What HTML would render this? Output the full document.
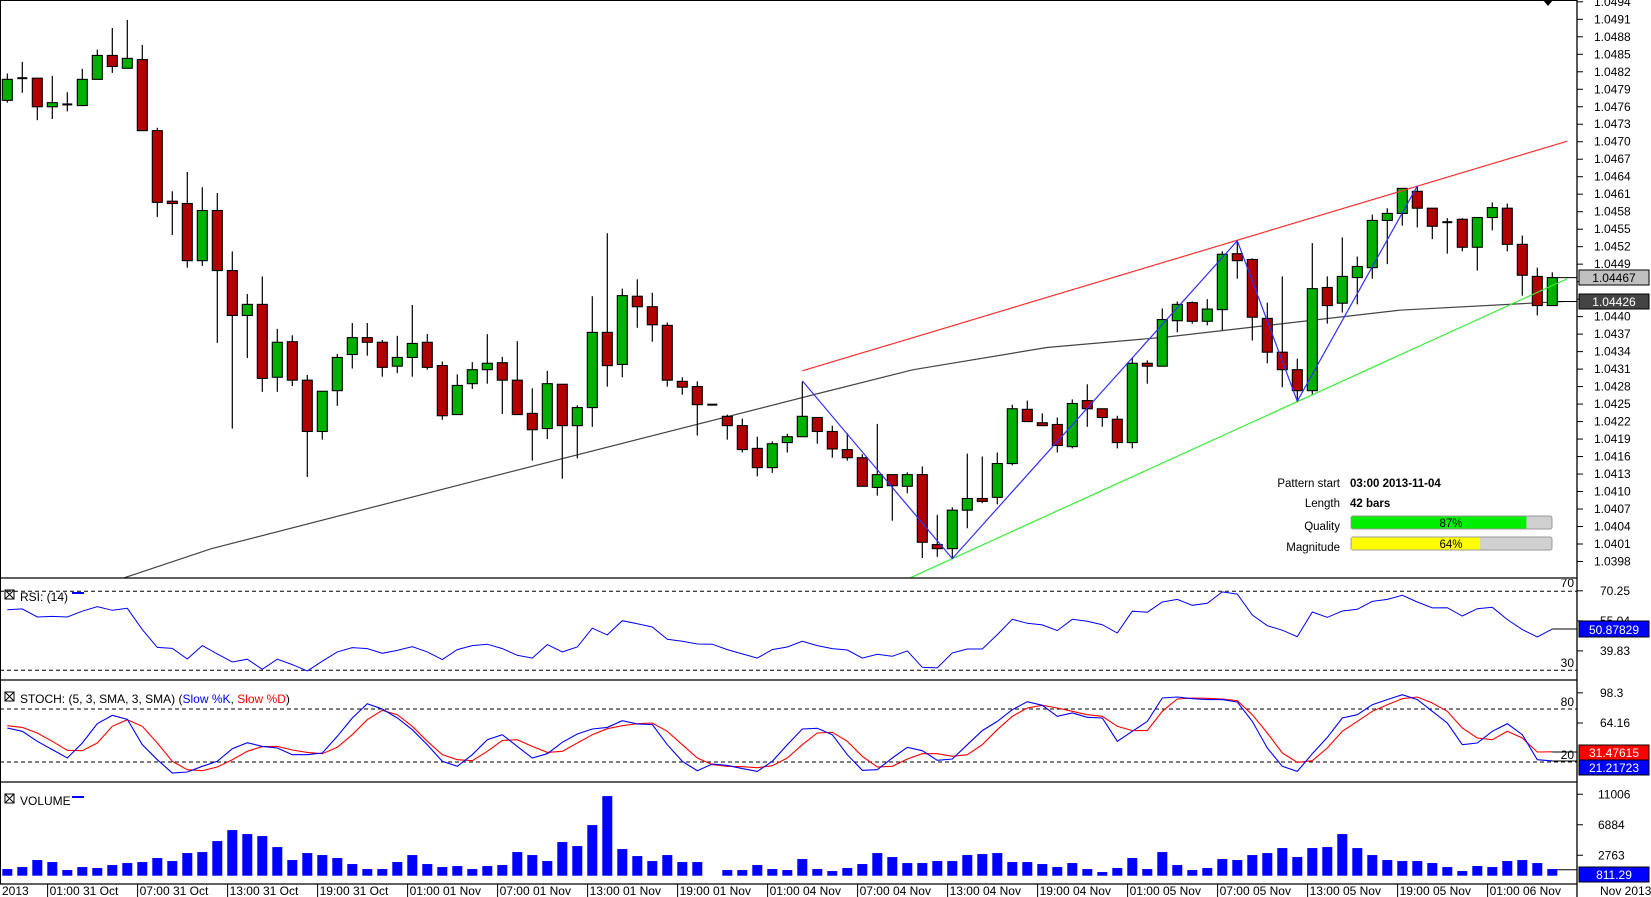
<!DOCTYPE html>
<html><head><meta charset="utf-8">
<style>
html,body{margin:0;padding:0;background:#fff;}
svg{display:block;font-family:"Liberation Sans",Arial,sans-serif;}
</style></head>
<body>
<svg id="chart" width="1651" height="897" viewBox="0 0 1651 897" xmlns="http://www.w3.org/2000/svg">
<defs>
<clipPath id="cMain"><rect x="0" y="0" width="1577" height="578"/></clipPath>
<clipPath id="cRsi"><rect x="0" y="579" width="1577" height="101"/></clipPath>
<clipPath id="cSto"><rect x="0" y="681" width="1577" height="101"/></clipPath>
<clipPath id="cRsiAx"><rect x="1540" y="579" width="111" height="101"/></clipPath>
</defs>
<rect x="0" y="0" width="1651" height="897" fill="#fff"/>
<g id="main" clip-path="url(#cMain)"></g>
<g id="rsi" clip-path="url(#cRsi)"></g>
<g id="sto" clip-path="url(#cSto)"></g>
<g id="vol"></g>
<g id="axes"></g>
</svg>
<script>
const opens=[1.04771,1.04809,1.04809,1.04760,1.04764,1.04762,1.04807,1.04848,1.04826,1.04841,1.04719,1.04598,1.04594,1.04496,1.04582,1.04479,1.04402,1.04421,1.04296,1.04357,1.04291,1.04203,1.04273,1.04335,1.04364,1.04356,1.04315,1.04330,1.04356,1.04316,1.04232,1.04285,1.04309,1.04321,1.04291,1.04234,1.04208,1.04284,1.04213,1.04244,1.04373,1.04318,1.04435,1.04417,1.04385,1.04289,1.04280,1.04249,1.04229,1.04213,1.04174,1.04141,1.04184,1.04194,1.04227,1.04203,1.04172,1.04158,1.04107,1.04129,1.04109,1.04129,1.04009,1.04002,1.04068,1.04088,1.04090,1.04148,1.04241,1.04218,1.04215,1.04177,1.04256,1.04242,1.04224,1.04184,1.04320,1.04315,1.04393,1.04424,1.04392,1.04412,1.04508,1.04498,1.04397,1.04339,1.04309,1.04273,1.04450,1.04423,1.04467,1.04484,1.04565,1.04577,1.04615,1.04586,1.04562,1.04567,1.04519,1.04570,1.04586,1.04524,1.04469,1.04419];
const highs=[1.04817,1.04837,1.04809,1.04813,1.04785,1.04825,1.04858,1.04895,1.04909,1.04866,1.04724,1.04615,1.04648,1.04622,1.04612,1.04512,1.04439,1.04469,1.04379,1.04368,1.04300,1.04272,1.04336,1.04389,1.04389,1.04360,1.04367,1.04420,1.04370,1.04323,1.04301,1.04322,1.04370,1.04331,1.04358,1.04277,1.04307,1.04284,1.04248,1.04435,1.04543,1.04448,1.04464,1.04441,1.04390,1.04296,1.04289,1.04249,1.04232,1.04225,1.04194,1.04186,1.04199,1.04288,1.04227,1.04213,1.04200,1.04164,1.04216,1.04129,1.04133,1.04143,1.04060,1.04073,1.04165,1.04160,1.04167,1.04249,1.04256,1.04234,1.04227,1.04258,1.04284,1.04242,1.04230,1.04330,1.04325,1.04414,1.04426,1.04426,1.04430,1.04512,1.04531,1.04500,1.04424,1.04469,1.04328,1.04526,1.04469,1.04536,1.04503,1.04575,1.04586,1.04620,1.04623,1.04586,1.04569,1.04569,1.04570,1.04596,1.04594,1.04539,1.04484,1.04476];
const lows=[1.04767,1.04784,1.04737,1.04739,1.04752,1.04762,1.04807,1.04818,1.04826,1.04719,1.04571,1.04540,1.04484,1.04487,1.04355,1.04208,1.04329,1.04271,1.04271,1.04281,1.04125,1.04189,1.04247,1.04311,1.04333,1.04297,1.04303,1.04297,1.04309,1.04223,1.04232,1.04276,1.04285,1.04233,1.04232,1.04153,1.04190,1.04122,1.04157,1.04211,1.04280,1.04296,1.04381,1.04357,1.04280,1.04266,1.04196,1.04249,1.04189,1.04167,1.04126,1.04132,1.04167,1.04194,1.04182,1.04158,1.04153,1.04109,1.04093,1.04050,1.04097,1.03986,1.03988,1.03985,1.04037,1.04080,1.04078,1.04145,1.04220,1.04213,1.04167,1.04174,1.04211,1.04211,1.04174,1.04174,1.04285,1.04315,1.04373,1.04388,1.04385,1.04377,1.04465,1.04359,1.04320,1.04279,1.04254,1.04266,1.04388,1.04407,1.04421,1.04465,1.04490,1.04556,1.04553,1.04533,1.04508,1.04512,1.04479,1.04548,1.04512,1.04436,1.04402,1.04419];
const closes=[1.04807,1.04809,1.04760,1.04767,1.04764,1.04807,1.04848,1.04829,1.04843,1.04719,1.04596,1.04594,1.04496,1.04582,1.04479,1.04402,1.04421,1.04294,1.04356,1.04291,1.04203,1.04272,1.04330,1.04364,1.04356,1.04313,1.04330,1.04354,1.04313,1.04230,1.04282,1.04309,1.04320,1.04291,1.04232,1.04206,1.04285,1.04213,1.04244,1.04373,1.04316,1.04436,1.04417,1.04386,1.04291,1.04279,1.04249,1.04249,1.04213,1.04172,1.04141,1.04182,1.04194,1.04229,1.04203,1.04173,1.04158,1.04109,1.04129,1.04110,1.04129,1.04013,1.04002,1.04068,1.04088,1.04083,1.04148,1.04242,1.04220,1.04213,1.04179,1.04251,1.04242,1.04227,1.04184,1.04320,1.04315,1.04395,1.04421,1.04392,1.04413,1.04507,1.04496,1.04399,1.04339,1.04309,1.04273,1.04448,1.04419,1.04469,1.04486,1.04565,1.04577,1.04620,1.04586,1.04555,1.04562,1.04519,1.04570,1.04587,1.04524,1.04471,1.04419,1.04467];
const volumes=[900,1170,2115,1845,765,1170,1035,1440,1710,1845,2385,1980,3060,3195,4680,6165,5625,5355,3870,2115,3060,2790,2385,1575,900,900,1845,2790,1575,1170,1305,900,1305,1440,3195,2790,1980,4545,4005,6840,10755,3600,2655,1980,2790,1845,1845,0,765,765,1440,900,765,2250,900,630,1035,1575,3060,2520,1710,1710,1980,1980,2790,2925,3060,1845,1845,1575,1170,1710,900,495,1035,2385,900,3195,1440,765,1035,2250,2115,2790,3060,3735,2520,3735,3870,5625,3735,2790,2115,1980,1980,1710,1170,630,1305,1170,1980,2115,1710,900];
const rsiVals=[60.7,61.1,57.0,57.3,57.0,59.9,62.2,60.4,61.4,50.6,41.6,41.1,35.7,42.5,38.3,34.2,35.6,30.5,35.6,32.9,29.7,34.6,39.3,41.5,41.0,38.6,40.1,42.0,39.3,35.4,40.5,42.5,43.2,41.0,37.6,36.2,43.0,39.3,41.8,51.3,47.9,55.1,53.6,51.9,45.7,44.7,43.3,43.2,40.5,38.3,36.2,40.5,41.8,44.7,42.5,41.0,40.3,36.2,38.1,37.1,39.8,31.5,31.2,38.8,40.8,40.8,48.1,55.8,53.8,53.0,50.1,55.8,54.8,53.1,48.9,59.9,59.4,64.6,65.9,62.9,63.9,69.7,68.6,58.0,52.6,50.3,47.0,59.5,56.8,60.0,60.9,64.9,65.9,68.0,64.6,61.6,61.7,57.5,61.2,61.9,55.7,50.6,46.9,50.88];
const stochK=[58.5,54.7,43.4,34.0,24.5,41.5,63.4,72.8,68.3,39.6,22.6,7.5,8.7,15.1,20.8,35.1,41.9,37.7,35.8,28.3,28.3,30.2,49.1,69.8,86.0,80.0,69.8,56.6,39.6,20.8,15.1,28.3,45.3,50.9,37.7,24.5,29.4,42.3,51.7,57.4,59.2,66.8,63.0,62.3,39.6,20.8,10.2,17.7,16.2,12.5,9.4,20.8,39.6,57.4,58.1,50.9,28.3,10.6,11.3,24.5,36.6,32.8,21.9,23.4,39.6,55.5,66.0,79.2,88.3,84.2,71.7,75.5,70.6,69.8,43.4,54.7,66.0,92.5,93.6,91.7,90.6,90.6,87.9,66.0,35.8,15.1,9.4,29.4,47.9,69.8,73.6,84.9,90.6,96.2,90.6,77.4,64.2,39.6,41.5,54.7,63.4,50.9,22.6,21.2];
const stochD=[61.1,59.2,52.8,43.4,33.2,32.8,41.5,60.4,67.9,60.4,41.5,20.8,11.3,10.2,14.3,22.6,32.1,37.4,37.7,33.6,30.9,29.4,36.6,50.9,67.9,78.5,73.6,60.4,43.4,28.3,22.6,21.5,32.1,44.5,45.3,37.7,30.9,32.1,41.5,50.9,57.7,61.1,63.4,64.2,54.7,39.6,24.5,17.0,15.1,14.7,13.6,15.8,24.5,39.6,52.8,53.6,43.4,26.4,14.3,15.1,23.4,29.4,29.4,26.4,28.3,39.6,56.6,71.7,81.1,84.2,81.1,77.4,73.6,71.7,60.4,55.5,55.5,77.4,91.3,92.5,92.1,91.3,89.4,73.6,52.8,30.2,19.6,21.5,35.8,54.7,66.0,77.4,84.9,91.7,93.6,86.8,77.4,58.5,47.2,45.3,54.7,47.2,31.3,31.5];
const smaIdx=[7.8,13.6,31.6,54.2,60.4,69.3,77.3,92.8,103.7];
const smaVal=[1.03952,1.04002,1.04121,1.04269,1.04309,1.04347,1.04365,1.04411,1.04426];
const redIdx=[53,104], redVal=[1.04307,1.04701];
const greenIdx=[60.2,104], greenVal=[1.03952,1.04465];
const zzIdx=[53,63,82,86,94], zzVal=[1.04290,1.03985,1.04530,1.04255,1.04624];
const timeLabels=["01:00 31 Oct","07:00 31 Oct","13:00 31 Oct","19:00 31 Oct","01:00 01 Nov","07:00 01 Nov","13:00 01 Nov","19:00 01 Nov","01:00 04 Nov","07:00 04 Nov","13:00 04 Nov","19:00 04 Nov","01:00 05 Nov","07:00 05 Nov","13:00 05 Nov","19:00 05 Nov","01:00 06 Nov"];

const NS="http://www.w3.org/2000/svg";
const xBar=i=>7.3+15*i;
const yP=p=>19.3+(1.0491-p)*58300;
const yR=v=>591.3+(70-v)*1.975;
const yS=v=>709+(80-v)*0.8833;
const yV=v=>875.7-v*0.0074;
function mk(tag,attrs,parent){const e=document.createElementNS(NS,tag);for(const k in attrs)e.setAttribute(k,attrs[k]);parent.appendChild(e);return e;}
function txt(s,x,y,attrs,parent){const e=mk('text',Object.assign({x:x,y:y,'font-size':12,fill:'#000'},attrs),parent);e.textContent=s;return e;}
const main=document.getElementById('main'),rsi=document.getElementById('rsi'),sto=document.getElementById('sto'),vol=document.getElementById('vol'),axes=document.getElementById('axes');

// SMA line
let pts=smaIdx.map((v,k)=>xBar(v).toFixed(1)+','+yP(smaVal[k]).toFixed(1)).join(' ');
let sma=mk('polyline',{points:pts,fill:'none',stroke:'#444',"stroke-width":1.2},main);



// candles
for(let i=0;i<opens.length;i++){
  const x=xBar(i),o=opens[i],c=closes[i];
  const g=mk('g',{},main);
  
  
  mk('line',{x1:x,x2:x,y1:yP(highs[i]),y2:yP(lows[i]),stroke:'#000','stroke-width':1.2},g);
  const top=yP(Math.max(o,c)),bot=yP(Math.min(o,c));
  if(bot-top<1.5){mk('rect',{x:x-5,y:top-1,width:10,height:2,fill:'#000'},g);}
  else mk('rect',{x:x-5,y:top,width:10,height:bot-top,fill:c>o?'#00b000':'#b00000',stroke:'#000','stroke-width':1.1},g);
}
// channel lines
let rl=mk('line',{x1:xBar(redIdx[0]),y1:yP(redVal[0]),x2:xBar(redIdx[1]),y2:yP(redVal[1]),stroke:'#ff3030','stroke-width':1.2},main);


let gl=mk('line',{x1:xBar(greenIdx[0]),y1:yP(greenVal[0]),x2:xBar(greenIdx[1]),y2:yP(greenVal[1]),stroke:'#33ee33','stroke-width':1.2},main);


let zz=mk('polyline',{points:zzIdx.map((v,k)=>xBar(v)+','+yP(zzVal[k]).toFixed(1)).join(' '),fill:'none',stroke:'#3030ff','stroke-width':1.2},main);


// last price lines
mk('line',{x1:xBar(103)+5,x2:1577,y1:yP(1.04467),y2:yP(1.04467),stroke:'#000'},main);
mk('line',{x1:xBar(103)+5,x2:1577,y1:yP(1.04426),y2:yP(1.04426),stroke:'#000'},main);

// pattern info
const info=mk('g',{},main);


[['Pattern start',483],['Length',503],['Quality',526],['Magnitude',547]].forEach(a=>txt(a[0],1340,a[1]+4,{'text-anchor':'end','font-size':11.5},info));
txt('03:00 2013-11-04',1350,487,{'font-weight':'bold','font-size':11.5},info);
txt('42 bars',1350,507,{'font-weight':'bold','font-size':11.5},info);
[[516,87,'#00ee00','87%'],[537,64,'#ffff00','64%']].forEach(b=>{
  mk('rect',{x:1351,y:b[0],width:201,height:13,rx:2,fill:'#d0d0d0',stroke:'#999'},info);
  mk('rect',{x:1351.5,y:b[0]+0.5,width:201*b[1]/100,height:12,fill:b[2]},info);
  txt(b[3],1451,b[0]+11,{'text-anchor':'middle','font-size':11.5},info);
});

// RSI
[70,30].forEach(v=>mk('line',{x1:0,x2:1577,y1:yR(v),y2:yR(v),stroke:'#000','stroke-dasharray':'4,3'},rsi));
let rp=mk('polyline',{points:rsiVals.map((v,i)=>xBar(i)+','+yR(v).toFixed(1)).join(' '),fill:'none',stroke:'#0000ff','stroke-width':1},rsi);


mk('line',{x1:xBar(103),x2:1577,y1:yR(50.88),y2:yR(50.88),stroke:'#000'},rsi);

// Stoch
[80,20].forEach(v=>mk('line',{x1:0,x2:1577,y1:yS(v),y2:yS(v),stroke:'#000','stroke-dasharray':'4,3'},sto));
let dp=mk('polyline',{points:stochD.map((v,i)=>xBar(i)+','+yS(v).toFixed(1)).join(' '),fill:'none',stroke:'#ff0000','stroke-width':1.1},sto);


let kp=mk('polyline',{points:stochK.map((v,i)=>xBar(i)+','+yS(v).toFixed(1)).join(' '),fill:'none',stroke:'#0000ff','stroke-width':1.1},sto);


mk('line',{x1:xBar(103),x2:1577,y1:yS(31.3),y2:yS(31.3),stroke:'#000'},sto);
mk('line',{x1:xBar(103),x2:1577,y1:yS(21.2),y2:yS(21.2),stroke:'#000'},sto);

// Volume
for(let i=0;i<volumes.length;i++){
  if(volumes[i]<=0)continue;
  const r=mk('rect',{x:xBar(i)-5,y:yV(volumes[i]),width:10,height:yV(0)-yV(volumes[i]),fill:'#0000ff'},vol);
  
  
}
mk('line',{x1:xBar(103)+5,x2:1577,y1:yV(811),y2:yV(811),stroke:'#000'},vol);

// frames
mk('line',{x1:0,x2:1577,y1:0.5,y2:0.5,stroke:'#000'},axes);
mk('line',{x1:0.5,x2:0.5,y1:0,y2:884,stroke:'#000'},axes);
[578,680,782,884].forEach(y=>mk('line',{x1:0,x2:1577,y1:y,y2:y,stroke:'#000','stroke-width':1.3},axes));
mk('line',{x1:1577,x2:1577,y1:0,y2:897,stroke:'#000','stroke-width':1.3},axes);
mk('polygon',{points:'1543,0 1553,0 1548,6',fill:'#000'},axes);

// price axis
for(let k=0;k<=32;k++){
  const p=1.0398+0.0003*k,y=yP(p);
  mk('line',{x1:1577,x2:1583,y1:y,y2:y,stroke:'#000'},axes);
  const t=txt(p.toFixed(4),1594,y+4,{},axes);
  
  
}
function box(label,y1,h,fill,color,nm){
  const g=mk('g',{},axes);
  
  
  mk('rect',{x:1579,y:y1,width:70,height:h,fill:fill,stroke:'#000'},g);
  txt(label,1614,y1+h-3,{'text-anchor':'middle',fill:color},g);
}
box('1.04467',270,15,'#c0c0c0','#000','last-price-box');
box('1.04426',294,15,'#444','#fff','sma-price-box');

// RSI axis
const ra=mk('g',{'clip-path':'url(#cRsiAx)'},axes);
[[70.25,'70.25'],[55.04,'55.04'],[39.83,'39.83']].forEach(a=>{mk('line',{x1:1577,x2:1583,y1:yR(a[0]),y2:yR(a[0]),stroke:'#000'},ra);txt(a[1],1600,yR(a[0])+4,{},ra);});
txt('70',1574,587,{'text-anchor':'end'},ra);
txt('30',1574,667,{'text-anchor':'end'},axes);
box('50.87829',621,16,'#0000ff','#fff','rsi-value-box');
// Stoch axis
[[98.3,'98.3'],[64.16,'64.16']].forEach(a=>{mk('line',{x1:1577,x2:1583,y1:yS(a[0]),y2:yS(a[0]),stroke:'#000'},axes);txt(a[1],1600,yS(a[0])+4,{},axes);});
txt('80',1574,706,{'text-anchor':'end'},axes);
txt('20',1574,759,{'text-anchor':'end'},axes);
box('21.21723',760,15,'#0000ff','#fff','slow-k-value-box');
box('31.47615',745,15,'#ff0000','#fff','slow-d-value-box');
// Volume axis
[[11006,'11006'],[6884,'6884'],[2763,'2763']].forEach(a=>{mk('line',{x1:1577,x2:1583,y1:yV(a[0]),y2:yV(a[0]),stroke:'#000'},axes);txt(a[1],1598,yV(a[0])+4,{},axes);});
box('811.29',867,15,'#0000ff','#fff','volume-value-box');

// panel titles
function icon(x,y){mk('rect',{x:x,y:y,width:9,height:9,fill:'none',stroke:'#000'},axes);mk('path',{d:`M${x} ${y}L${x+9} ${y+9}M${x+9} ${y}L${x} ${y+9}`,stroke:'#000'},axes);}
icon(5,590);txt('RSI: (14)',20,601,{},axes);mk('rect',{x:72,y:592,width:12,height:2,fill:'#0000ff'},axes);
icon(5,692);
const st=txt('',20,703,{},axes);
st.innerHTML='STOCH: (5, 3, SMA, 3, SMA) (<tspan fill="#0000ff">Slow %K</tspan>, <tspan fill="#ff0000">Slow %D</tspan>)';
icon(5,794);txt('VOLUME',20,805,{},axes);mk('rect',{x:72,y:796,width:12,height:2,fill:'#0000ff'},axes);

// time axis
txt('2013',2,895,{},axes);
timeLabels.forEach((s,k)=>{const x=47.6+90*k;mk('line',{x1:x,x2:x,y1:884,y2:897,stroke:'#000'},axes);
  const t=txt(s,x+2,895,{},axes);
  
  });
txt('Nov 2013',1600,895,{},axes);
</script>
</body></html>
